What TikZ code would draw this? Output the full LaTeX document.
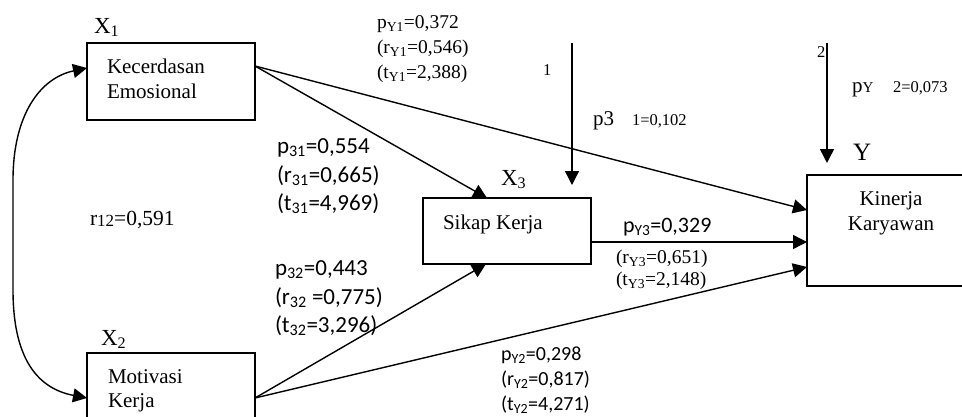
\documentclass[tikz,border=0pt]{standalone}
\usepackage{fontspec}
\setmainfont{Liberation Serif}
\newfontfamily\calib{Carlito}
\usetikzlibrary{arrows.meta,calc}
\newcommand\fsA{\fontsize{21}{25}\selectfont}
\newcommand\fsX{\fontsize{23}{27}\selectfont}
\newcommand\fsY{\fontsize{25}{29}\selectfont}
\newcommand\fsS{\fontsize{19.5}{23}\selectfont}
\newcommand\fsR{\fontsize{21.5}{25}\selectfont}
\newcommand\fsP{\fontsize{21}{25}\selectfont}
\newcommand\fsT{\fontsize{16.5}{20}\selectfont}
\newcommand\fsC{\calib\fontsize{23}{27}\selectfont}
\newcommand\fsCs{\calib\fontsize{20}{24}\selectfont}
\begin{document}
\begin{tikzpicture}[x=1pt,y=-1pt,
  box/.style={draw, line width=1.4pt, inner sep=0pt, outer sep=0pt},
  lbl/.style={anchor=base west, inner sep=0pt, outer sep=0pt},
  lblc/.style={anchor=base, inner sep=0pt, outer sep=0pt},
  conn/.style={line width=1.4pt, -{Triangle[length=14pt,width=14pt]}},
]
\useasboundingbox (0,0) rectangle (962,416);

% boxes
\node[box, minimum width=168pt, minimum height=77pt] (x1) at (171,81.5) {};
\node[box, minimum width=168pt, minimum height=72pt] (x2) at (171,389) {};
\node[box, minimum width=168pt, minimum height=66pt] (x3) at (507,231) {};
\node[box, minimum width=168pt, minimum height=111pt] (y) at (891,230.5) {};

% box texts and labels
\node[lbl,font=\fsX] (lx1) at (94,33) {X\textsubscript{1}};
\node[lbl,font=\fsA] (t1a) at (107,73) {Kecerdasan};
\node[lbl,font=\fsA] (t1b) at (107,98) {Emosional};
\node[lbl,font=\fsX] (lx2) at (101,345) {X\textsubscript{2}};
\node[lbl,font=\fsA] (t2a) at (108,383) {Motivasi};
\node[lbl,font=\fsA] (t2b) at (108,407) {Kerja};
\node[lbl,font=\fsX] (lx3) at (501,185) {X\textsubscript{3}};
\node[lbl,font=\fsA] (t3) at (443,229) {Sikap Kerja};
\node[lbl,font=\fsY] (ly) at (853,160) {Y};
\node[lblc,font=\fsA] (t4a) at (891,205) {Kinerja};
\node[lblc,font=\fsA] (t4b) at (891,230) {Karyawan};
\node[lbl,font=\fsR] (r12) at (90,225) {r{\fontsize{17}{20}\selectfont\raisebox{-1.5pt}{12}}=0,591};

% pY1 group
\node[lbl,font=\fsS] (py1a) at (377,28) {p\textsubscript{Y1}=0,372};
\node[lbl,font=\fsS] (py1b) at (377,53) {(r\textsubscript{Y1}=0,546)};
\node[lbl,font=\fsS] (py1c) at (377,78) {(t\textsubscript{Y1}=2,388)};

% residual labels
\node[lbl,font=\fsT] (n1) at (543,75) {1};
\node[lbl,font=\fsP] (p31a) at (593,125) {p3};
\node[lbl,font=\fsT] (p31b) at (632,125) {1=0,102};
\node[lbl,font=\fsT] (n2) at (817,57) {2};
\node[lbl,font=\fsP] (py2a) at (852,92) {p{\fontsize{15}{18}\selectfont Y}};
\node[lbl,font=\fsT] (py2b) at (893,92) {2=0,073};

% p31 group
\node[lbl,font=\fsC] (q1a) at (277,153) {p\textsubscript{31}=0,554};
\node[lbl,font=\fsC] (q1b) at (277,182) {(r\textsubscript{31}=0,665)};
\node[lbl,font=\fsC] (q1c) at (277,210) {(t\textsubscript{31}=4,969)};

% p32 group
\node[lbl,font=\fsC] (q2a) at (275,275) {p\textsubscript{32}=0,443};
\node[lbl,font=\fsC] (q2b) at (275,304) {(r\textsubscript{32} =0,775)};
\node[lbl,font=\fsC] (q2c) at (275,332) {(t\textsubscript{32}=3,296)};

% pY2 group
\node[lbl,font=\fsCs] (q3a) at (501,360) {p\textsubscript{Y2}=0,298};
\node[lbl,font=\fsCs] (q3b) at (501,385) {(r\textsubscript{Y2}=0,817)};
\node[lbl,font=\fsCs] (q3c) at (501,410) {(t\textsubscript{Y2}=4,271)};

% pY3 group
\node[lbl,font=\calib\fontsize{22}{26}\selectfont] (q4a) at (623,232) {p\textsubscript{Y3}=0,329};
\node[lbl,font=\fsS] (q4b) at (616,263) {(r\textsubscript{Y3}=0,651)};
\node[lbl,font=\fsS] (q4c) at (616,285) {(t\textsubscript{Y3}=2,148)};

% connectors
\coordinate (s1) at ([yshift=15.5pt]x1.east);
\coordinate (s2) at ([yshift=-9pt]x2.east);
\coordinate (s3) at ([yshift=-11pt]x3.east);
\draw[conn] (s1) -- ([yshift=-35pt]y.north west);
\draw[conn] (s1) -- ([xshift=64pt]x3.north west);
\draw[conn] (s2) -- ([xshift=63pt]x3.south west);
\draw[conn] (s2) -- ([yshift=-92pt]y.north west);
\draw[conn] (s3) -- (s3 -| y.west);

\coordinate (c1) at (572,43);
\coordinate (c2) at (827,43);
\draw[conn] (c1) -- ($(c1 |- x3.north)+(0,-13)$);
\draw[conn] (c2) -- ($(c2 |- y.north)+(0,-12)$);

\coordinate (a1) at ([yshift=13.5pt]x1.west);
\coordinate (a2) at ([yshift=-9pt]x2.west);
\draw[line width=1.4pt, {Triangle[length=14pt,width=14pt]}-{Triangle[length=14pt,width=14pt]}]
  (a2) .. controls (35,388) and (13,355) .. (13,290) -- (13,180) .. controls (13,115) and (40,78) .. (a1);
\end{tikzpicture}
\end{document}
